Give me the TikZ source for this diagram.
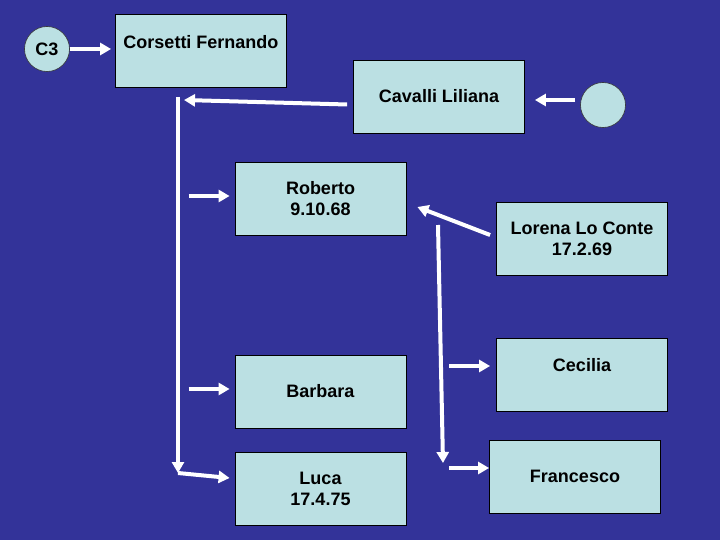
\documentclass[tikz,border=0pt]{standalone}
\usepackage{fontspec}
\setmainfont{Liberation Sans}
\usetikzlibrary{arrows.meta}
\definecolor{bg}{RGB}{51,51,153}
\definecolor{boxc}{RGB}{187,224,227}
\begin{document}
\begin{tikzpicture}[x=1pt,y=-1pt,
  box/.style={draw=black, line width=0.8pt, fill=boxc, minimum width=171pt, minimum height=73pt, inner sep=0pt, font=\fontsize{18}{21}\selectfont\bfseries, align=center},
  txt/.style={inner sep=0pt, font=\fontsize{18}{21}\selectfont\bfseries, align=center},
  circ/.style={circle, draw=black!80, line width=0.6pt, fill=boxc, minimum size=45pt, inner sep=0pt, font=\fontsize{18}{21}\selectfont\bfseries},
  arr/.style={draw=white, line width=4pt, -{Triangle[length=11pt,width=12pt]}}]
\fill[bg] (0,0) rectangle (720,540);
\useasboundingbox (0,0) rectangle (720,540);
% nodes
\node[circ] (c3) at (47,49) {C3};
\node[circ] (e) at (603,105) {};
\node[box] (cors) at (201,51) {};
\node[txt] (corst) at (201,42) {Corsetti Fernando};
\node[box] (cav) at (439,96.5) {Cavalli Liliana};
\node[box] (rob) at (320.5,198.5) {Roberto\\9.10.68};
\node[box] (lor) at (582,239) {Lorena Lo Conte\\17.2.69};
\node[box] (cec) at (582,374.5) {};
\node[txt] (cect) at (582,365) {Cecilia};
\node[box] (bar) at (320.5,391.5) {Barbara};
\node[box] (luca) at (320.5,488.5) {Luca\\17.4.75};
\node[box] (fra) at (575,476.5) {Francesco};
% coordinates
\coordinate (ltop) at (178,97);
\coordinate (lbot) at (178,473);
\coordinate (rtop) at (438,225);
\coordinate (rbot) at (443,463);
% connectors
\draw[arr] (c3.east) -- ([xshift=-4pt]c3 -| cors.west);
\draw[arr] ([shift={(-5,-5)}]e.west) -- ([shift={(10,3.5)}]cav.east);
\draw[arr] ([shift={(-6,8)}]cav.west) -- ([shift={(6,3)}]ltop);
\draw[arr] (ltop) -- (lbot);
\draw[arr] (lbot) -- ([shift={(-5,-10.5)}]luca.west);
\draw[arr] ([shift={(-46,-2.5)}]rob.west) -- ([shift={(-5,-2.5)}]rob.west);
\draw[arr] ([shift={(-46,-2.5)}]bar.west) -- ([shift={(-5,-2.5)}]bar.west);
\draw[arr] ([shift={(-6,-4)}]lor.west) -- ([shift={(11,8.5)}]rob.east);
\draw[arr] (rtop) -- (rbot);
\draw[arr] ([shift={(-47,-8.5)}]cec.west) -- ([shift={(-6,-8.5)}]cec.west);
\draw[arr] ([shift={(-40,-8.5)}]fra.west) -- ([shift={(0,-8.5)}]fra.west);
\end{tikzpicture}
\end{document}
